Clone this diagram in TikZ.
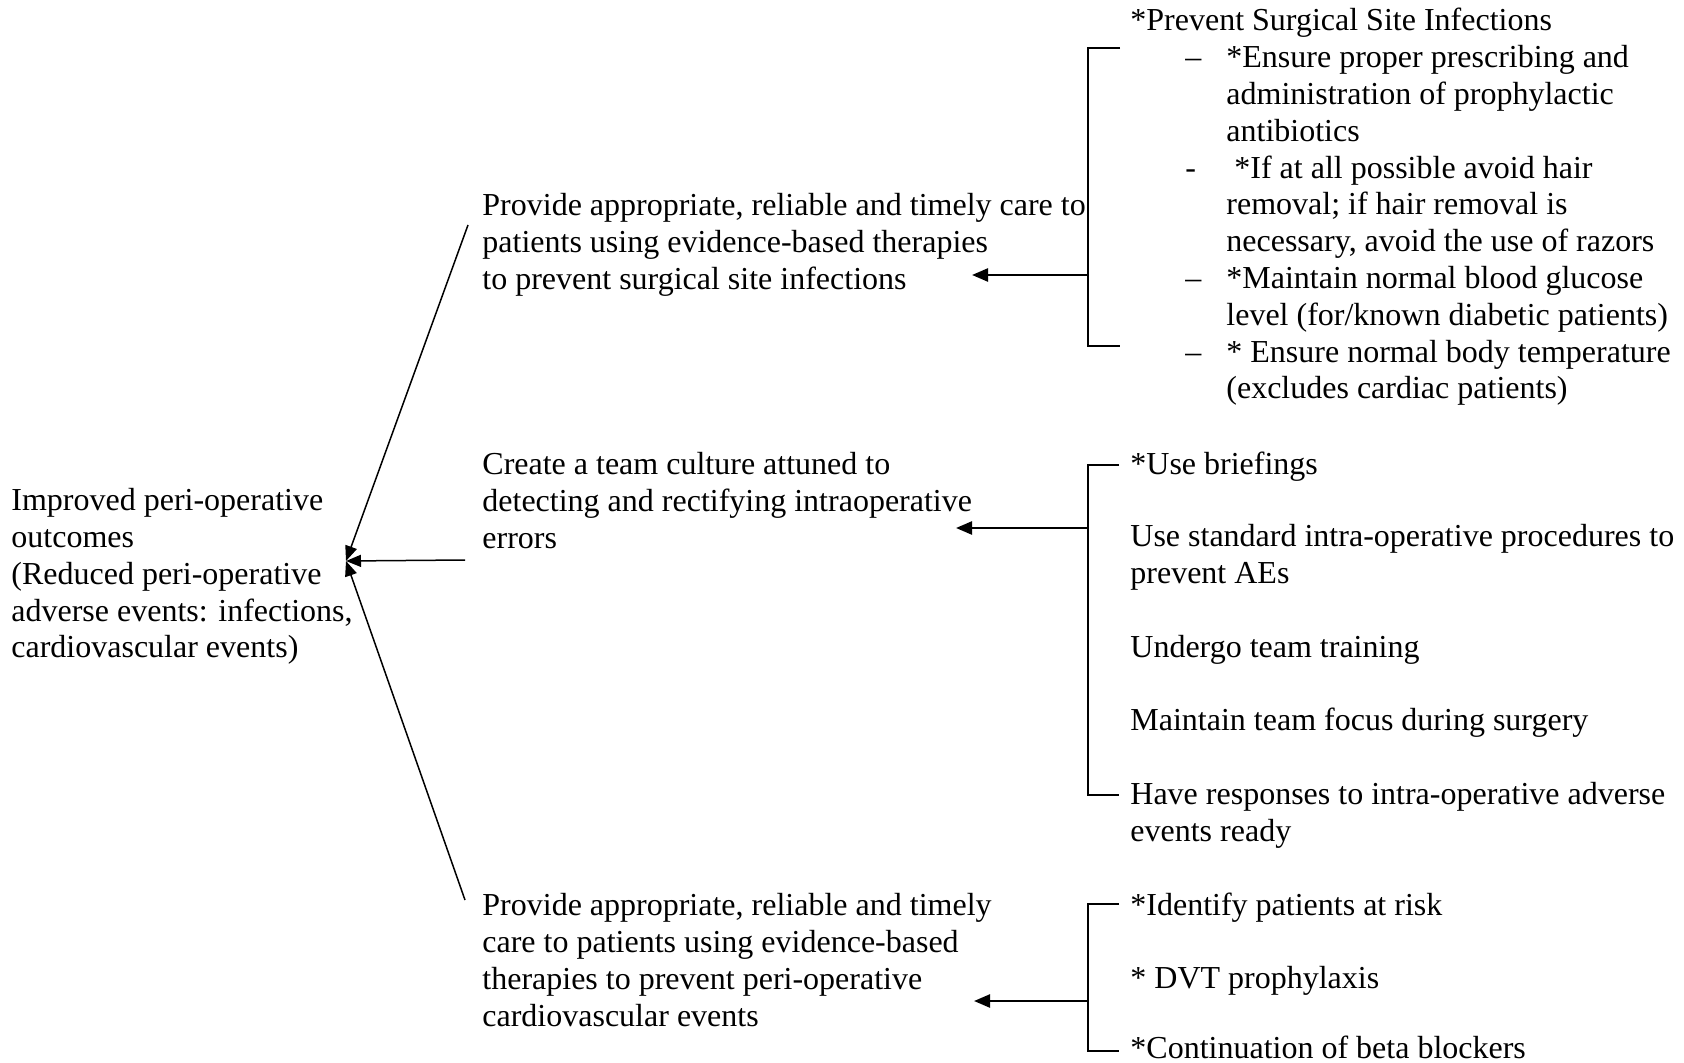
\documentclass[tikz,border=0pt]{standalone}
\usepackage{fontspec}
\setmainfont{Liberation Serif}
\usetikzlibrary{arrows.meta,positioning}
\newcommand{\ssidash}[1]{\hspace*{27.5pt}\makebox[20.5pt][l]{#1}}

\begin{document}
\begin{tikzpicture}[x=0.5pt,y=-0.5pt,
    txt/.style={anchor=north west,inner sep=0pt,align=left,font=\fontsize{16}{18.4}\selectfont},
    feed/.style={-{Triangle[length=7.5pt,width=6pt]},line width=0.75pt},
    link/.style={-{Triangle[length=8pt,width=6.5pt]},line width=1.2pt},
    brace/.style={line width=0.9pt}]
  \useasboundingbox (0,0) rectangle (1684,1063);

  \node[txt] (outcome) at (11,488) {Improved peri-operative\\outcomes\\(Reduced peri-operative\\adverse events: infections,\\cardiovascular events)};

  \node[txt] (ssicare) at (482,193) {Provide appropriate, reliable and timely care to\\patients using evidence-based therapies\\to prevent surgical site infections};
  \node[txt] (teamcare) at (482,452) {Create a team culture attuned to\\detecting and rectifying intraoperative\\errors};
  \node[txt] (cvcare) at (482,893) {Provide appropriate, reliable and timely\\care to patients using evidence-based\\therapies to prevent peri-operative\\cardiovascular events};

  \node[txt] (ssilist) at (1130,8) {*Prevent Surgical Site Infections\\
    \ssidash{--}*Ensure proper prescribing and\\
    \ssidash{}administration of prophylactic\\
    \ssidash{}antibiotics\\
    \ssidash{-}\ *If at all possible avoid hair\\
    \ssidash{}removal; if hair removal is\\
    \ssidash{}necessary, avoid the use of razors\\
    \ssidash{--}*Maintain normal blood glucose\\
    \ssidash{}level (for/known diabetic patients)\\
    \ssidash{--}* Ensure normal body temperature\\
    \ssidash{}(excludes cardiac patients)};

  \node[txt] (brief) at (1130,452) {*Use briefings};
  \node[txt] (stdproc) at (1130,524) {Use standard intra-operative procedures to\\prevent AEs};
  \node[txt] (training) at (1130,635) {Undergo team training};
  \node[txt] (focus) at (1130,708) {Maintain team focus during surgery};
  \node[txt] (respond) at (1130,782) {Have responses to intra-operative adverse\\events ready};

  \node[txt] (risk) at (1130,893) {*Identify patients at risk};
  \node[txt] (dvt) at (1130,966) {* DVT prophylaxis};
  \node[txt] (beta) at (1130,1036) {*Continuation of beta blockers};

  \coordinate (goal) at (346,561);
  \coordinate (ssifrom) at (468,225);
  \coordinate (teamfrom) at (465,560);
  \coordinate (cvfrom) at (465,900);
  \draw[feed] (ssifrom) -- (goal);
  \draw[feed] (teamfrom) -- (goal);
  \draw[feed] (cvfrom) -- (goal);

  \coordinate (ssitop) at (1120,48);
  \coordinate (ssibot) at (1120,346);
  \coordinate (ssimid) at (1088,275);
  \coordinate (ssitip) at (972,275);
  \draw[brace] (ssitop) -- ++(-32,0) |- (ssibot);
  \draw[link] (ssimid) -- (ssitip);

  \coordinate (teamtop) at (1119,465);
  \coordinate (teambot) at (1119,795);
  \coordinate (teammid) at (1088,528);
  \coordinate (teamtip) at (956,528);
  \draw[brace] (teamtop) -- ++(-31,0) |- (teambot);
  \draw[link] (teammid) -- (teamtip);

  \coordinate (cvtop) at (1119,904);
  \coordinate (cvbot) at (1119,1051);
  \coordinate (cvmid) at (1088,1001);
  \coordinate (cvtip) at (974,1001);
  \draw[brace] (cvtop) -- ++(-31,0) |- (cvbot);
  \draw[link] (cvmid) -- (cvtip);
\end{tikzpicture}
\end{document}
